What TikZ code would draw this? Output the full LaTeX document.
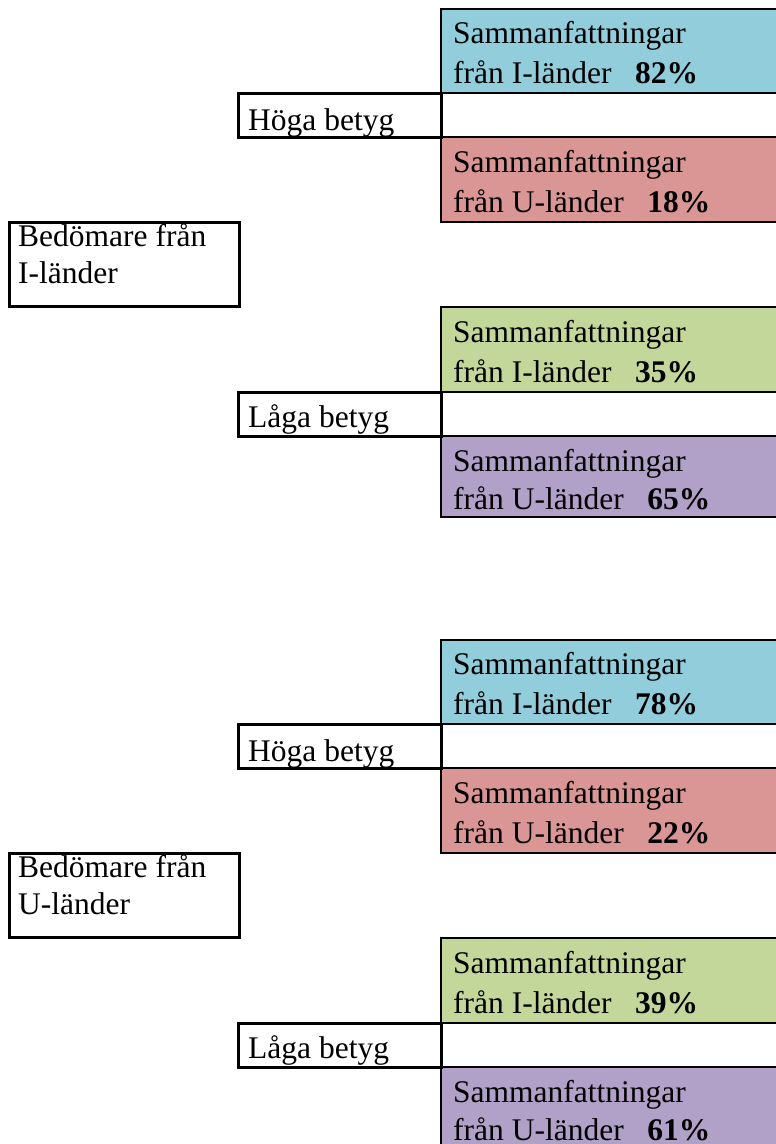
\documentclass[tikz,border=0pt]{standalone}
\usepackage{fontspec}
\setmainfont{Liberation Serif}
\definecolor{cblue}{HTML}{92CDDC}
\definecolor{cred}{HTML}{DA9694}
\definecolor{cgreen}{HTML}{C4D79B}
\definecolor{cpurple}{HTML}{B1A0C7}
\begin{document}
\begin{tikzpicture}[x=1pt,y=-1pt,
  cbox/.style={draw=black, line width=2pt, anchor=north west, inner sep=0pt, outer sep=0pt, minimum width=345pt},
  bbox/.style={draw=black, line width=3pt, fill=white, anchor=north west, inner sep=0pt, outer sep=0pt},
  txt/.style={anchor=base west, inner sep=0pt, font=\fontsize{31.5}{40}\selectfont}
]
\useasboundingbox (0,0) rectangle (776,1144);
\clip (0,0) rectangle (776,1144);
\foreach \g/\off/\pa/\pb/\pc/\pd/\who in {1/0/82/18/35/65/I, 2/631/78/22/39/61/U}{
  % coloured boxes
  \node[cbox, fill=cblue, minimum height=84pt] (A\g) at (441,{9+\off}) {};
  \node[cbox, fill=cred, minimum height=85pt] (B\g) at (441,{137+\off}) {};
  \node[cbox, fill=cgreen, minimum height=85pt] (C\g) at (441,{307+\off}) {};
  \node[cbox, fill=cpurple, minimum height=81pt] (D\g) at (441,{436+\off}) {};
  % black boxes
  \node[bbox, minimum width=203pt, minimum height=44pt] (H\g) at (238,{93+\off}) {};
  \node[bbox, minimum width=230pt, minimum height=84pt] (R\g) at (9,{222+\off}) {};
  \node[bbox, minimum width=203pt, minimum height=44pt] (L\g) at (238,{392+\off}) {};
  % texts
  \node[txt] (A\g a) at (453,{43+\off}) {Sammanfattningar};
  \node[txt] (A\g b) at (453,{83+\off}) {från I-länder~~~\textbf{\pa\%}};
  \node[txt] (B\g a) at (453,{172+\off}) {Sammanfattningar};
  \node[txt] (B\g b) at (453,{212+\off}) {från U-länder~~~\textbf{\pb\%}};
  \node[txt] (C\g a) at (453,{342+\off}) {Sammanfattningar};
  \node[txt] (C\g b) at (453,{382+\off}) {från I-länder~~~\textbf{\pc\%}};
  \node[txt] (D\g a) at (453,{471+\off}) {Sammanfattningar};
  \node[txt] (D\g b) at (453,{509+\off}) {från U-länder~~~\textbf{\pd\%}};
  \node[txt] (H\g t) at (248,{130+\off}) {Höga betyg};
  \node[txt] (L\g t) at (248,{427+\off}) {Låga betyg};
  \node[txt] (R\g a) at (18,{246+\off}) {Bedömare från};
  \node[txt] (R\g b) at (18,{283+\off}) {\who-länder};
}
\end{tikzpicture}
\end{document}
